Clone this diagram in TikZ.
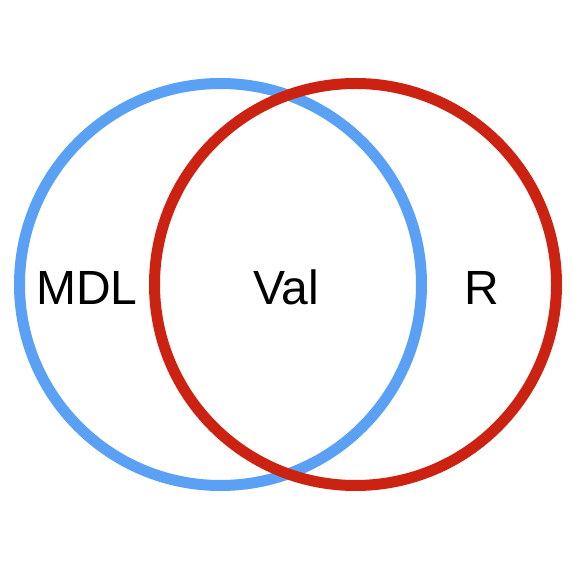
\documentclass[tikz,border=0pt]{standalone}
\usepackage{fontspec}
\setmainfont{Liberation Sans}
\definecolor{cblue}{HTML}{5AA0F5}
\definecolor{cred}{HTML}{CC2211}
\begin{document}
\begin{tikzpicture}[x=1pt,y=1pt,
  ring/.style={line width=11pt},
  lbl/.style={font=\fontsize{48}{50}\selectfont, anchor=base, inner sep=0pt}]
\useasboundingbox[fill=white] (0,0) rectangle (572,572);
\node[circle, ring, draw=cblue, minimum size=402pt] (mdlset) at (220.5,287.5) {};
\node[circle, ring, draw=cred, minimum size=402pt] (rset) at (355.5,287.5) {};
\node[lbl] (mdl) at (87,267) {MDL};
\node[lbl] (val) at (286,267) {Val};
\node[lbl] (r) at (481.5,267) {R};
\end{tikzpicture}
\end{document}
